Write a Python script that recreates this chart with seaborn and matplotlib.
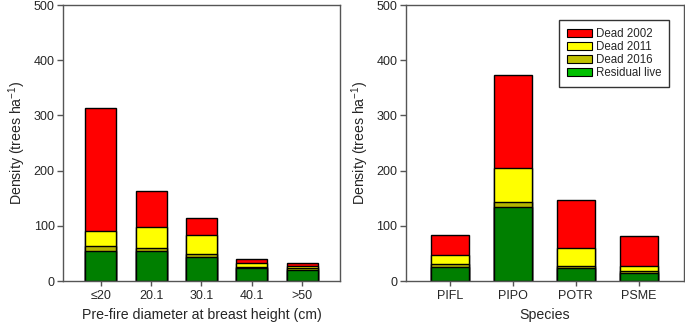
import matplotlib
matplotlib.use("Agg")
import matplotlib.pyplot as plt
import seaborn as sns
import pandas as pd
import numpy as np
from matplotlib.patches import Patch

sns.set_style("white")
plt.rcParams['font.family'] = ['Liberation Sans', 'DejaVu Sans']
plt.rcParams['mathtext.default'] = 'regular'

# Data (trees per ha)
dbh_classes = ["≤20", "20.1", "30.1", "40.1", ">50"]
dbh_live = [54, 54, 44, 24, 20]
dbh_dead2016 = [9, 5, 5, 2, 3]
dbh_dead2011 = [28, 38, 34, 7, 4]
dbh_dead2002 = [222, 66, 31, 7, 6]

species = ["PIFL", "PIPO", "POTR", "PSME"]
sp_live = [25, 134, 23, 15]
sp_dead2016 = [6, 10, 5, 3]
sp_dead2011 = [17, 60, 32, 10]
sp_dead2002 = [35, 169, 86, 54]

series_names = ["Dead 2002", "Dead 2011", "Dead 2016", "Residual live"]
bar_colors = ["#FF0000", "#FFFF00", "#B5B500", "#007F00"]
legend_colors = ["#FF0000", "#FFFF00", "#C0C000", "#00C000"]

fig = plt.figure(figsize=(6.85, 3.28), dpi=100)
ax1 = fig.add_axes([63/685, 47/328, 277/685, 276/328])
ax2 = fig.add_axes([405.7/685, 47/328, 278.3/685, 276/328])


def stacked(ax, cats, live, d16, d11, d02, width):
    c_live = np.array(live, dtype=float)
    c16 = c_live + np.array(d16)
    c11 = c16 + np.array(d11)
    c02 = c11 + np.array(d02)
    for vals, col in zip([c02, c11, c16, c_live], bar_colors):
        df = pd.DataFrame({"cat": cats, "val": vals})
        sns.barplot(data=df, x="cat", y="val", color=col, width=width,
                    edgecolor="black", linewidth=1.0, saturation=1, ax=ax)


stacked(ax1, dbh_classes, dbh_live, dbh_dead2016, dbh_dead2011, dbh_dead2002, 0.62)
stacked(ax2, species, sp_live, sp_dead2016, sp_dead2011, sp_dead2002, 0.6)

ax1.set_xlim(-0.75, 4.75)
ax2.set_xlim(-0.7, 3.72)

for ax in (ax1, ax2):
    ax.set_ylim(0, 500)
    ax.set_yticks([0, 100, 200, 300, 400, 500])
    ax.set_ylabel("Density (trees ha$^{-1}$)", fontsize=10.2, labelpad=4)
    for s in ax.spines.values():
        s.set_visible(True)
        s.set_color("#555555")
        s.set_linewidth(1.0)
    ax.tick_params(axis="y", direction="out", length=4, width=1, color="#555555",
                   labelsize=9, left=True, pad=2)
    ax.tick_params(axis="x", direction="out", length=3.5, width=1, color="#555555",
                   labelsize=9, bottom=True, pad=3)
    ax.grid(False)

ax1.set_xlabel("Pre-fire diameter at breast height (cm)", fontsize=10.2, labelpad=4)
ax2.set_xlabel("Species", fontsize=10.2, labelpad=4)

handles = [Patch(facecolor=c, edgecolor="black", linewidth=0.8, label=n)
           for c, n in zip(legend_colors, series_names)]
leg = ax2.legend(handles=handles, loc="upper right", bbox_to_anchor=(0.947, 0.945),
                 fontsize=8.3, frameon=True, fancybox=False, edgecolor="black",
                 handlelength=2.1, handleheight=0.75, labelspacing=0.08,
                 handletextpad=0.35, borderpad=0.7, borderaxespad=0)
leg.get_frame().set_linewidth(1.0)

fig.savefig("out.png", dpi=100)
